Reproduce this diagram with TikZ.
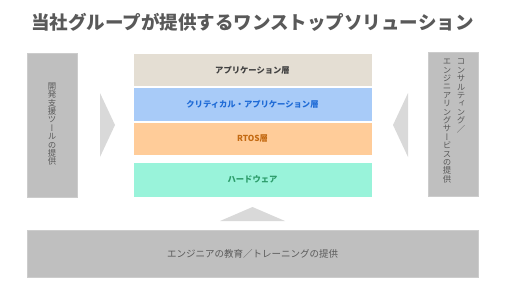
\documentclass[tikz,border=0pt]{standalone}
\usepackage{fontspec}
\newfontfamily\jp{Noto Sans CJK JP}
\newfontfamily\vjp[RawFeature={+vert}]{Noto Sans CJK JP}
\usetikzlibrary{positioning}

\definecolor{boxgray}{HTML}{BFBFBF}
\definecolor{arrowgray}{HTML}{D9D9D9}
\definecolor{textgray}{HTML}{595959}
\definecolor{appfill}{HTML}{E4DED3}
\definecolor{apptext}{HTML}{404040}
\definecolor{critfill}{HTML}{A8CBF8}
\definecolor{crittext}{HTML}{1F6BD6}
\definecolor{rtosfill}{HTML}{FFCC99}
\definecolor{rtostext}{HTML}{C46A12}
\definecolor{hwfill}{HTML}{99F3DA}
\definecolor{hwtext}{HTML}{2C9C6A}

% stack the characters of a string top to bottom
\ExplSyntaxOn
\NewDocumentCommand \tate { m }
  {
    \vbox:n
      {
        \baselineskip=1em \lineskiplimit=-\maxdimen
        \tl_map_inline:nn {#1} { \hbox_to_wd:nn {1em} { \hss ##1 \hss } }
      }
  }
\ExplSyntaxOff

\tikzset{
  layer/.style={minimum width=239pt, minimum height=33.5pt, draw=white, line width=0.8pt,
    inner sep=0pt, font=\jp\bfseries\fontsize{8.3}{10}\selectfont},
  sidebox/.style={fill=boxgray, draw=boxgray!80!white, minimum width=50pt,
    minimum height=144pt, inner sep=0pt},
  tatetext/.style={text=textgray, inner sep=0pt, font=\vjp\fontsize{8.4}{8.4}\selectfont},
  flatarrow/.style={fill=arrowgray, draw=none}
}

\begin{document}
\begin{tikzpicture}[x=1pt, y=-1pt]
  \useasboundingbox (0,0) rectangle (505,284);

  % Title
  \node[font=\jp\bfseries\fontsize{18.5}{20}\selectfont, text=textgray] (title) at (252.5,22)
    {当社グループが提供するワンストップソリューション};

  % Layer stack
  \node[layer, fill=appfill, text=apptext] (app) at (252.5,70) {アプリケーション層};
  \node[layer, fill=critfill, text=crittext] (crit) at (252.5,104.5) {クリティカル・アプリケーション層};
  \node[layer, fill=rtosfill, text=rtostext] (rtos) at (252.5,139) {RTOS層};
  \node[layer, fill=hwfill, text=hwtext, minimum height=35pt] (hw) at (252.5,179.5) {ハードウェア};

  % Side services
  \node[sidebox] (devtools) at (52,125) {};
  \node[tatetext] (devtoolstext) at (52,124) {\tate{開発支援ツールの提供}};
  \node[sidebox] (consult) at (453,124.5) {};
  \node[tatetext, anchor=north] (consulttexta) at (461,59) {\tate{コンサルティング{{\jp ／}}}};
  \node[tatetext, anchor=north] (consulttextb) at (447,59) {\tate{エンジニアリングサービスの提供}};

  % Bottom service
  \node[fill=boxgray, draw=boxgray!80!white, minimum width=451pt, minimum height=47pt,
    text=textgray, font=\jp\fontsize{9.5}{11}\selectfont] (training) at (252.5,253.5)
    {エンジニアの教育／トレーニングの提供};

  % Arrows pointing at the stack
  \fill[flatarrow] (100,93) -- (115,125) -- (100,157) -- cycle;
  \fill[flatarrow] (408,93) -- (393,125) -- (408,157) -- cycle;
  \fill[flatarrow] (220,221) -- (252.5,207) -- (285,221) -- cycle;

\end{tikzpicture}
\end{document}
